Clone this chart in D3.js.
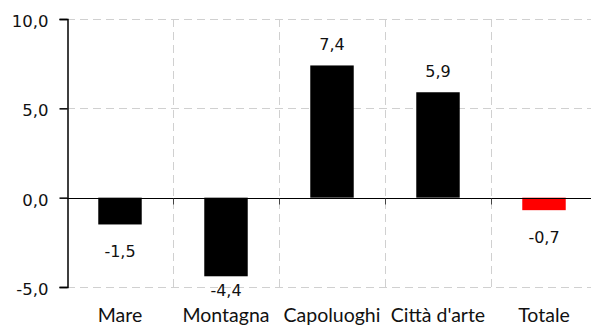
<!DOCTYPE html>
<html>
<head>
<meta charset="utf-8">
<script src="https://cdn.jsdelivr.net/npm/d3@7"></script>
<style>
  html, body { margin: 0; padding: 0; background: #fff; }
  svg { display: block; }
</style>
</head>
<body>
<svg id="chart" width="591" height="326"></svg>
<script>
// Variazione percentuale per tipologia di località
const categories = ["Mare", "Montagna", "Capoluoghi", "Città d'arte", "Totale"];
const values = [-1.5, -4.4, 7.4, 5.9, -0.7];
const barColors = ["#000000", "#000000", "#000000", "#000000", "#ff0000"];
const yTicks = [-5, 0, 5, 10];

(function () {
const svg = d3.select("#chart");
const mLeft = 67, mRight = 597, mTop = 19, mBottom = 287;

const x = d3.scaleBand().domain(categories).range([mLeft, mRight]).paddingInner(0).paddingOuter(0);
const y = d3.scaleLinear().domain([-5, 10]).range([mBottom, mTop]);
const fmt = v => d3.format(".1f")(v).replace(".", ",").replace("−", "-");

// horizontal dashed grid
svg.append("g").selectAll("line").data(yTicks).join("line")
  .attr("x1", mLeft).attr("x2", mRight)
  .attr("y1", d => Math.round(y(d)) + 0.5).attr("y2", d => Math.round(y(d)) + 0.5)
  .attr("stroke", "#d0d0d0").attr("stroke-width", 1).attr("stroke-dasharray", "8,5");

// vertical dashed grid at band boundaries
const bounds = categories.slice(1).map(c => x(c));
svg.append("g").selectAll("line").data(bounds).join("line")
  .attr("x1", d => Math.round(d) + 0.5).attr("x2", d => Math.round(d) + 0.5)
  .attr("y1", mTop).attr("y2", mBottom)
  .attr("stroke", "#d0d0d0").attr("stroke-width", 1).attr("stroke-dasharray", "8,5");

// bars
const bw = x.bandwidth() * 0.41;
svg.append("g").selectAll("rect").data(values).join("rect")
  .attr("x", (d, i) => x(categories[i]) + (x.bandwidth() - bw) / 2)
  .attr("width", bw)
  .attr("y", d => y(Math.max(0, d)))
  .attr("height", d => Math.abs(y(d) - y(0)))
  .attr("fill", (d, i) => barColors[i]);

// zero line with small ticks at band boundaries
const y0 = Math.round(y(0)) + 0.5;
svg.append("line").attr("x1", mLeft).attr("x2", mRight).attr("y1", y0).attr("y2", y0)
  .attr("stroke", "#000").attr("stroke-width", 1);
svg.append("g").selectAll("line").data(bounds).join("line")
  .attr("x1", d => Math.round(d) + 0.5).attr("x2", d => Math.round(d) + 0.5)
  .attr("y1", y0).attr("y2", y0 + 6)
  .attr("stroke", "#444").attr("stroke-width", 1);

// y axis
const yAxis = d3.axisLeft(y).tickValues(yTicks).tickSize(8).tickPadding(11).tickFormat(fmt);
const ga = svg.append("g").attr("transform", `translate(${mLeft + 0.5},0)`).call(yAxis);
ga.select(".domain").attr("stroke", "#000").attr("stroke-width", 1.5);
ga.selectAll(".tick line").attr("stroke", "#000").attr("stroke-width", 1.5);
ga.selectAll(".tick text").attr("font-family", "DejaVu Sans").attr("font-size", 16.5)
  .attr("fill", "#111").attr("dy", "0.45em");

// value labels
svg.append("g").selectAll("text").data(values).join("text")
  .attr("x", (d, i) => x(categories[i]) + x.bandwidth() / 2)
  .attr("y", d => d >= 0 ? y(d) - 21 : Math.min(y(d) + 27, 290.5))
  .attr("dy", "0.37em")
  .attr("text-anchor", "middle")
  .attr("font-family", "DejaVu Sans").attr("font-size", 16).attr("fill", "#111")
  .text(d => fmt(d));

// category labels
svg.append("g").selectAll("text").data(categories).join("text")
  .attr("x", d => x(d) + x.bandwidth() / 2)
  .attr("y", 322)
  .attr("text-anchor", "middle")
  .attr("font-family", "Lato").attr("font-size", 19.5).attr("fill", "#111")
  .text(d => d);
})();
</script>
</body>
</html>
